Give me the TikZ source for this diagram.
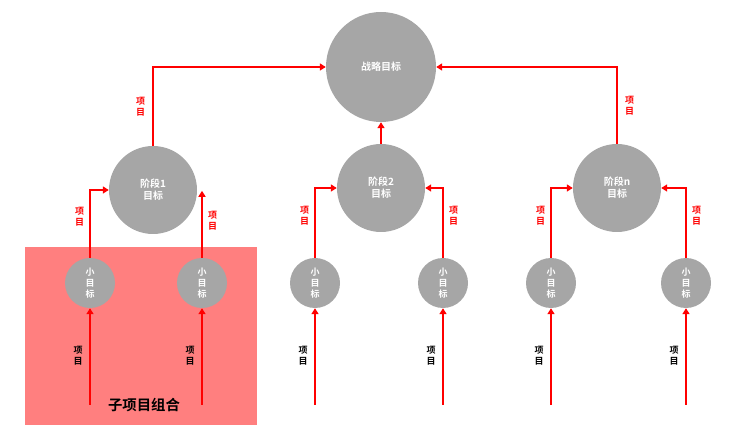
\documentclass[tikz,border=0pt]{standalone}
\usepackage{fontspec}
\setmainfont{Noto Sans CJK SC}[BoldFont={Noto Sans CJK SC Bold}]
\usetikzlibrary{positioning,arrows.meta}
\definecolor{goalgray}{HTML}{A6A6A6}
\definecolor{setpink}{HTML}{FF7F7F}

\begin{document}
\begin{tikzpicture}[
  x=1pt, y=-1pt,
  font=\bfseries,
  goal/.style={circle, fill=goalgray, text=white, align=center, inner sep=0pt},
  arr/.style={-{Triangle[length=6pt,width=7pt]}, red, line width=2pt},
  lbl/.style={align=center, font=\bfseries\small, inner sep=1pt}
]
\useasboundingbox (0,0) rectangle (748,446);

\node[fill=setpink, minimum width=232pt, minimum height=178pt, anchor=north west] (portfolio) at (25,247) {};
\node[font=\bfseries\Large] (portTitle) at (144,405) {子项目组合};

\node[goal, minimum size=110pt] (strat) at (381,67) {战略目标};
\node[goal, minimum size=88pt] (st1) at (153,190) {阶段1\\目标};
\node[goal, minimum size=88pt] (st2) at (381,188) {阶段2\\目标};
\node[goal, minimum size=88pt] (stn) at (617,188) {阶段n\\目标};

\foreach \name/\x in {sa/90, sb/202, sc/315, sd/443, se/551, sf/686}{
  \node[goal, minimum size=50pt, font=\bfseries\small] (\name) at (\x,283) {小\\目\\标};
  \coordinate (\name-src) at (\x,405);
  \draw[arr] (\name-src) -- (\name);
  \node[lbl] at (\x-12,356) {项\\目};
}

% stages to strategy
\draw[arr] (st1.north) |- (strat.west) node[lbl, pos=0.25, left=6pt] {项\\目};
\draw[arr] (st2.north) -- (strat.south);
\draw[arr] (stn.north) |- (strat.east) node[lbl, pos=0.25, right=6pt] {项\\目};

% small goals to stages
\draw[arr] (sa.north) |- (st1.west) node[lbl, pos=0.3, left=4pt] {项\\目};
\draw[arr] (sb.north) -- ++(0,-67) node[lbl, pos=0.55, right=4pt] {项\\目};
\draw[arr] (sc.north) |- (st2.west) node[lbl, pos=0.3, left=4pt] {项\\目};
\draw[arr] (sd.north) |- (st2.east) node[lbl, pos=0.3, right=4pt] {项\\目};
\draw[arr] (se.north) |- (stn.west) node[lbl, pos=0.3, left=4pt] {项\\目};
\draw[arr] (sf.north) |- (stn.east) node[lbl, pos=0.3, right=4pt] {项\\目};

\end{tikzpicture}
\end{document}
